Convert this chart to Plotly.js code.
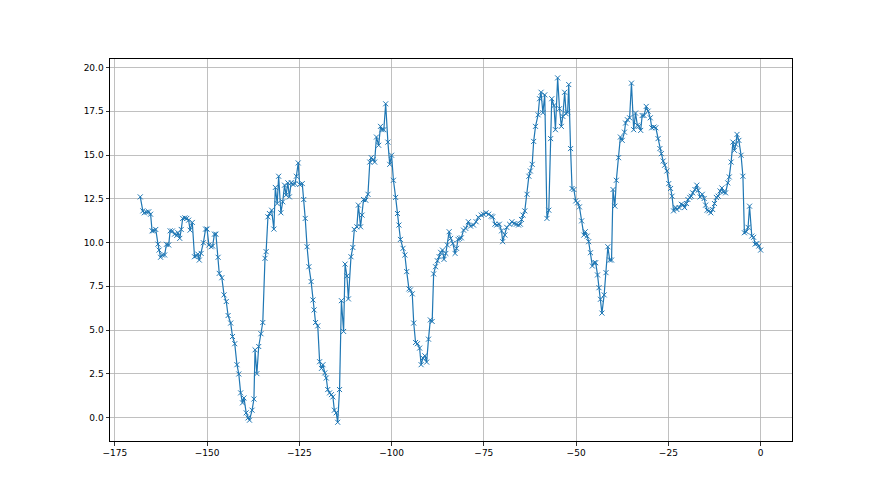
<!DOCTYPE html>
<html>
<head>
<meta charset="utf-8">
<script src="https://cdn.plot.ly/plotly-3.0.1.min.js"></script>
<style>html,body{margin:0;padding:0;background:#fff;}#chart{width:880px;height:495px;}</style>
</head>
<body>
<div id="chart"></div>
<script>
const xSeg1 = [-168.1,-167.4,-167.0,-166.4,-165.8,-165.3,-164.9,-164.5,-163.9,-163.3,-163.0,-162.6,-162.1,-161.5,-161.0,-160.4,-160.0,-159.4,-158.8,-158.2,-157.9,-157.4,-157.0,-156.6,-156.0,-155.5,-155.0,-154.6,-154.0,-153.4,-152.9,-152.5,-152.1,-151.6,-151.0,-150.4,-150.0,-149.5,-148.9,-148.5,-148.0,-147.6,-147.0,-146.7,-146.0,-145.4,-144.8,-144.3,-143.6,-143.1,-142.5,-141.9,-141.4,-140.9,-140.4,-140.0,-139.4];
const ySeg1 = [12.61,11.81,11.70,11.74,11.76,11.62,10.67,10.67,10.75,9.91,9.57,9.16,9.29,9.29,9.90,9.86,10.67,10.66,10.48,10.41,10.56,10.24,10.75,11.38,11.41,11.38,11.28,10.71,11.15,9.19,9.25,9.34,9.00,9.38,9.99,10.77,10.77,9.86,9.76,9.80,10.48,10.48,9.16,8.24,7.99,7.01,6.63,5.83,5.40,4.63,4.22,3.02,2.49,1.41,0.84,1.12,0.27];

const xSeg2 = [-138.9,-138.5,-137.8,-137.3,-137.0,-136.5,-136.0,-135.4,-134.9,-134.3,-134.0,-133.5,-133.1,-132.5,-131.9,-131.5,-131.0,-130.6,-130.0,-129.5,-129.0,-128.6,-128.1,-127.7,-127.2,-126.7,-126.2,-125.8,-125.3,-124.9,-124.2,-123.8,-123.4,-122.9,-122.4,-121.8,-121.3,-121.0,-120.6,-120.0,-119.5,-119.0,-118.6,-118.1,-117.7,-117.3,-116.8,-116.3,-115.9,-115.5,-115.0,-114.6,-114.1,-113.6,-113.0,-112.6,-112.1,-111.7];
const ySeg2 = [-0.02,-0.15,0.42,1.06,3.87,2.51,4.06,4.79,5.43,9.10,9.48,11.47,11.66,11.85,10.77,13.15,12.23,13.79,11.70,12.33,13.28,12.71,13.41,12.61,13.43,13.32,13.37,13.79,14.55,13.32,13.37,12.46,11.38,9.76,8.62,7.77,6.72,6.15,5.43,5.24,3.19,2.81,3.02,2.55,2.26,1.60,1.41,1.31,1.18,0.42,0.27,-0.27,1.60,6.68,4.92,8.77,8.09,6.78];

const xSeg3 = [-111.0,-110.5,-110.1,-109.4,-109.0,-108.4,-108.0,-107.6,-107.0,-106.4,-105.9,-105.5,-105.0,-104.6,-104.1,-103.5,-103.0,-102.6,-102.1,-101.6,-101.0,-100.5,-100.0,-99.5,-98.9,-98.4,-98.0,-97.6,-96.9,-96.4,-95.9,-95.3,-94.9,-94.4,-94.0,-93.5,-93.0,-92.4,-92.0,-91.5,-91.0,-90.5,-90.0,-89.5,-89.0,-88.6,-88.1,-87.6,-87.1,-86.7,-86.2,-85.8,-85.3,-84.9,-84.4,-84.0,-83.4,-82.8,-82.4,-82.0,-81.6,-81.1,-80.5,-79.9,-79.2];
const ySeg3 = [9.19,9.72,10.75,10.90,12.14,10.90,11.57,12.46,12.42,12.76,14.60,14.85,14.74,14.60,16.03,15.56,16.64,16.45,16.45,17.93,15.74,14.47,14.99,13.56,12.58,11.66,11.00,10.18,9.67,9.29,8.34,7.35,7.29,7.07,5.40,4.29,4.22,3.97,3.02,3.40,3.53,3.17,4.48,5.58,5.49,8.21,8.62,8.96,9.19,9.44,9.57,9.04,9.38,9.86,10.62,10.24,9.95,9.38,9.67,10.18,10.24,10.27,10.71,10.81,11.19];

const xSeg4 = [-78.6,-77.8,-77.1,-76.5,-75.7,-75.1,-74.4,-73.7,-73.0,-72.6,-72.0,-71.5,-70.8,-70.2,-69.9,-69.3,-68.8,-68.0,-67.4,-66.8,-66.2,-65.6,-65.1];
const ySeg4 = [10.94,11.00,11.19,11.44,11.57,11.62,11.70,11.62,11.51,11.47,11.05,11.00,11.05,10.67,10.05,10.43,10.87,11.04,11.19,11.09,11.05,11.00,11.05];

const xSeg5 = [-64.8,-64.4,-63.9,-63.3,-62.8,-62.4,-61.9,-61.5,-61.0,-60.3,-59.9,-59.5,-59.0,-58.5,-57.9,-57.4,-56.9,-56.6,-56.0,-55.6,-55.0,-54.5,-54.0,-53.6,-53.1,-52.7,-52.3,-52.0,-51.5,-51.1,-50.6,-50.1,-49.6,-49.1,-48.5,-47.9,-47.5,-47.0,-46.6,-46.1,-45.6,-45.1,-44.7,-44.2,-43.8,-43.4,-43.0,-42.4,-41.9,-41.4,-40.9,-40.4,-40.0,-39.5,-39.1,-38.5,-38.0,-37.5,-36.9,-36.6,-36.1];
const ySeg5 = [11.32,11.57,11.81,12.76,13.79,14.09,14.47,15.78,16.64,17.30,18.22,18.59,17.42,18.44,11.38,11.85,15.94,18.22,17.83,16.45,19.41,17.65,16.64,17.21,18.59,17.36,17.45,19.03,15.37,13.09,13.03,12.38,12.27,12.04,11.24,10.43,10.62,10.37,10.05,9.42,8.66,8.85,8.85,8.15,7.42,6.76,5.97,7.01,8.28,9.76,9.00,9.00,13.03,12.08,13.56,14.85,16.03,15.84,16.31,16.83,17.02];

const xSeg6 = [-35.5,-35.0,-34.4,-33.9,-33.4,-33.0,-32.5,-32.1,-31.6,-31.0,-30.5,-29.9,-29.5,-28.9,-28.4,-27.8,-27.3,-26.9,-26.4,-26.0,-25.4,-24.9,-24.4,-24.0,-23.6,-23.0,-22.7,-22.1,-21.5,-21.0,-20.6,-20.1,-19.7,-19.2,-18.8,-18.4,-17.8,-17.3,-16.9,-16.4,-15.8,-15.3,-14.9,-14.5,-14.0,-13.5,-13.0];
const ySeg6 = [17.13,19.11,16.45,17.40,16.70,16.64,16.41,17.26,17.26,17.78,17.51,17.13,16.56,16.60,16.56,15.94,15.37,15.08,14.66,14.42,14.09,13.37,13.09,12.65,11.81,12.00,11.89,12.00,12.19,12.14,12.00,12.23,12.46,12.58,12.65,12.84,13.03,13.28,12.99,12.61,12.76,12.52,12.14,11.85,11.81,11.70,11.89];

const xSeg7 = [-12.5,-12.0,-11.5,-11.0,-10.5,-10.1,-9.5,-8.9,-8.5,-8.0,-7.5,-7.1,-6.7,-6.4,-5.9,-5.3,-4.8,-4.4,-3.9,-3.4,-3.0,-2.4,-1.9,-1.5,-1.0,-0.5,0.0];
const ySeg7 = [12.23,12.58,12.65,12.95,13.12,12.89,12.84,13.41,13.75,14.60,15.74,15.27,15.61,16.18,15.84,14.99,13.79,10.56,10.62,10.87,12.08,10.37,10.30,9.91,9.95,9.80,9.57];

const xTicks = [-175,-150,-125,-100,-75,-50,-25,0];
const yTicks = [0,2.5,5,7.5,10,12.5,15,17.5,20];

const xs = [].concat(xSeg1,xSeg2,xSeg3,xSeg4,xSeg5,xSeg6,xSeg7);
const ys = [].concat(ySeg1,ySeg2,ySeg3,ySeg4,ySeg5,ySeg6,ySeg7);

const trace = {
  x: xs, y: ys, type: 'scatter', mode: 'lines+markers',
  line: {color: '#1f77b4', width: 1.2},
  marker: {symbol: 'x-thin-open', size: 5, color: '#1f77b4', line: {color: '#1f77b4', width: 1}},
  hoverinfo: 'skip'
};

const axisCommon = {
  showline: true, mirror: true, linecolor: '#000', linewidth: 1,
  ticks: 'outside', ticklen: 3.5, tickwidth: 0.8, tickcolor: '#000',
  showgrid: true, gridcolor: '#b0b0b0', gridwidth: 0.8,
  zeroline: false,
  tickfont: {family: 'DejaVu Sans, sans-serif', size: 9, color: '#000'}
};

const layout = {
  width: 880, height: 495,
  margin: {l: 110, r: 88, t: 59, b: 54},
  paper_bgcolor: '#fff', plot_bgcolor: '#fff',
  showlegend: false,
  xaxis: Object.assign({}, axisCommon, {range: [-176.3, 8.5], tickmode: 'array', tickvals: xTicks, ticktext: xTicks.map(v => v < 0 ? '\u2212' + Math.abs(v) : String(v))}),
  yaxis: Object.assign({}, axisCommon, {range: [-1.34, 20.49], tickmode: 'array', tickvals: yTicks, ticktext: yTicks.map(v => v.toFixed(1))})
};

Plotly.newPlot('chart', [trace], layout, {displayModeBar: false, staticPlot: true});
</script>
</body>
</html>
